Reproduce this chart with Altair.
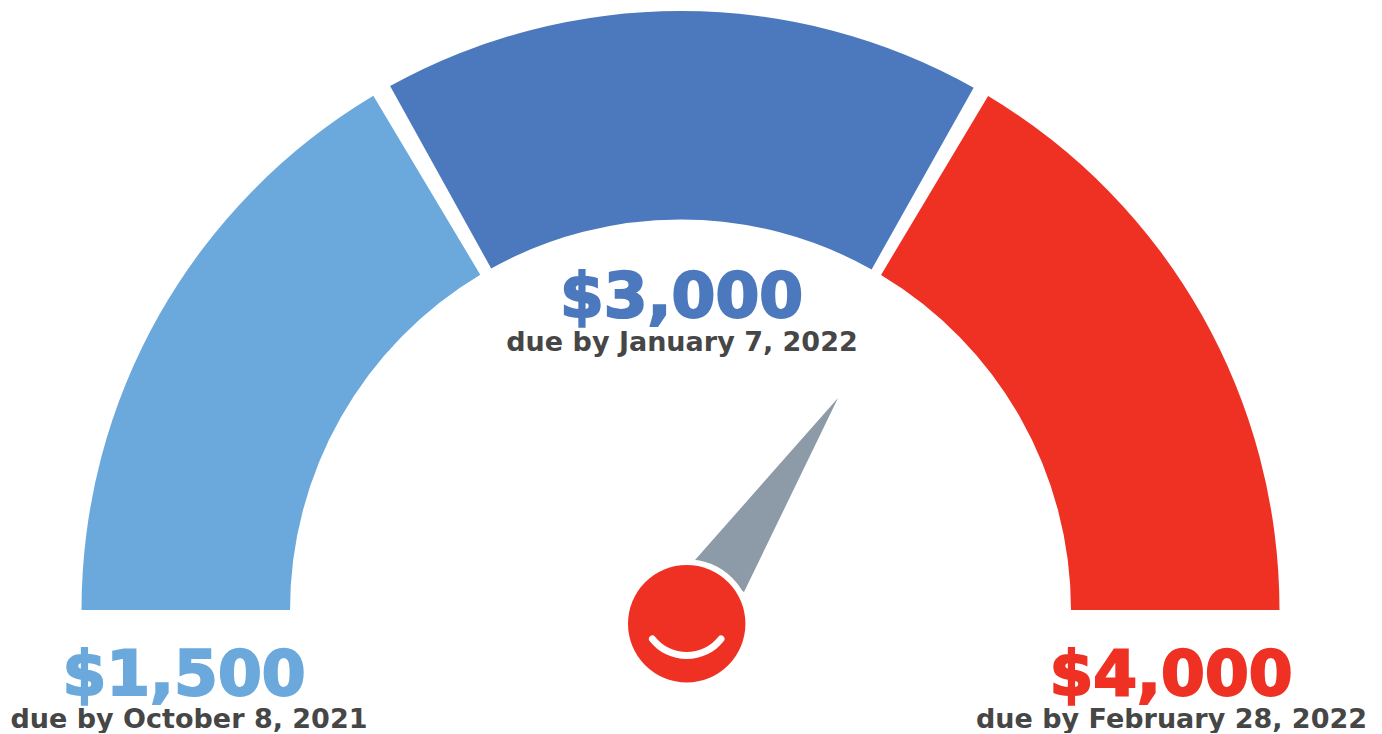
import altair as alt
import pandas as pd

# gauge segments (degrees clockwise from top)
segments = ["first", "second", "third"]
seg_start = [-90, -29.0, 30.9]
seg_end = [-30.85, 29.3, 90]
seg_colors = ["#6BA9DC", "#4C79BD", "#EF3124"]
center_x, center_y = 680.5, 610
outer_r, inner_r = 599, 390.5

amounts = ["$1,500", "$3,000", "$4,000"]
amount_x = [184, 681.5, 1171]
amount_y = [695, 316.5, 695]
dues = ["due by October 8, 2021", "due by January 7, 2022", "due by February 28, 2022"]
due_x = [189, 682, 1171.5]
due_y = [728, 351, 728]

needle_x = [695, 744, 838]
needle_top = [560, 504.5, 398]
needle_bottom = [560, 592, 398]

hub_x, hub_y = 686.7, 623.7
smile_x, smile_y = 686.7, 611.5

W, H = 1366, 718
X = alt.X("x:Q", scale=alt.Scale(domain=[8, 8 + W], range=[0, W]), axis=None)
Y = alt.Y("y:Q", scale=alt.Scale(domain=[8 + H, 8], range=[H, 0]), axis=None)
TH = alt.Scale(domain=[0, 360], range=[0, 6.283185307])
seg_scale = alt.Scale(domain=segments, range=seg_colors)

arcs = pd.DataFrame({"segment": segments, "a": seg_start, "b": seg_end,
                     "x": center_x, "y": center_y, "r": outer_r, "r0": inner_r})
gauge = alt.Chart(arcs).mark_arc().encode(
    x=X, y=Y,
    theta=alt.Theta("a:Q", scale=TH),
    theta2=alt.Theta2("b:Q"),
    radius=alt.Radius("r:Q", scale=None),
    radius2=alt.Radius2("r0:Q"),
    color=alt.Color("segment:N", scale=seg_scale, legend=None),
)

needle = alt.Chart(pd.DataFrame({"x": needle_x, "y": needle_top, "y2": needle_bottom})).mark_area(
    color="#8D9AA8", orient="vertical"
).encode(x=X, y=Y, y2="y2:Q")

hub_df = pd.DataFrame({"x": [hub_x], "y": [hub_y]})
ring = alt.Chart(hub_df).mark_point(filled=True, shape="circle", color="white", opacity=1, size=129 ** 2).encode(x=X, y=Y)
hub = alt.Chart(hub_df).mark_point(filled=True, shape="circle", color="#EF3124", opacity=1, size=117.4 ** 2).encode(x=X, y=Y)

smile = alt.Chart(pd.DataFrame({"x": [smile_x], "y": [smile_y], "a": [124], "b": [236], "r": [47.5], "r0": [40.5]})).mark_arc(
    color="white", cornerRadius=3.5
).encode(
    x=X, y=Y,
    theta=alt.Theta("a:Q", scale=TH),
    theta2=alt.Theta2("b:Q"),
    radius=alt.Radius("r:Q", scale=None),
    radius2=alt.Radius2("r0:Q"),
)

amt = alt.Chart(pd.DataFrame({"x": amount_x, "y": amount_y, "t": amounts, "segment": segments})).mark_text(
    font="DejaVu Sans", fontWeight="bold", fontSize=63, align="center", baseline="alphabetic", strokeWidth=2.2
).encode(
    x=X, y=Y, text="t:N",
    color=alt.Color("segment:N", scale=seg_scale, legend=None),
    stroke=alt.Stroke("segment:N", scale=seg_scale, legend=None),
)

due = alt.Chart(pd.DataFrame({"x": due_x, "y": due_y, "t": dues})).mark_text(
    font="DejaVu Sans", fontWeight="bold", fontSize=27, align="center", baseline="alphabetic", color="#464646"
).encode(x=X, y=Y, text="t:N")

chart = alt.layer(gauge, needle, ring, hub, smile, amt, due).properties(
    width=W, height=H, padding=0, background="white"
).configure_view(stroke=None)

chart.save("out.html", embed_options={"renderer": "svg", "actions": False})
